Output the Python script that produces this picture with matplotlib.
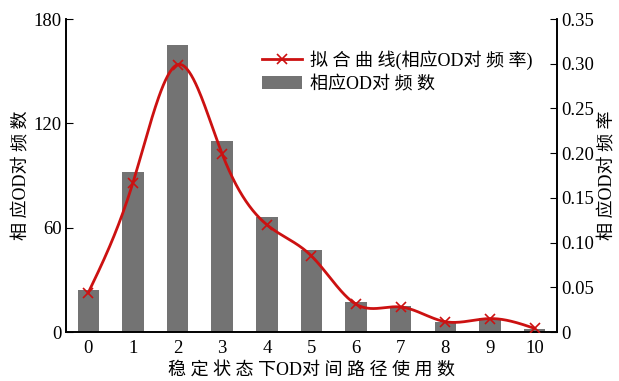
import numpy as np
import matplotlib
matplotlib.use('Agg')
import matplotlib.pyplot as plt
from matplotlib.lines import Line2D
from matplotlib.patches import Patch

plt.rcParams['font.family'] = ['Liberation Serif', 'Noto Sans CJK SC']
plt.rcParams['axes.unicode_minus'] = False

# 路径使用数及对应的OD对频数 / 频率
path_num = [0, 1, 2, 3, 4, 5, 6, 7, 8, 9, 10]
od_count = [24, 92, 165, 110, 66, 47, 17, 15, 6, 8, 2]
od_rate = [0.044, 0.167, 0.299, 0.199, 0.120, 0.085, 0.031, 0.028, 0.0115, 0.015, 0.004]
rate_ticks = ['0', '0.05', '0.10', '0.15', '0.20', '0.25', '0.30', '0.35']

bar_color = '#737373'
line_color = '#cc1111'


def natural_spline(x, y, xs):
    # 自然三次样条, 用于画平滑拟合曲线
    x = np.asarray(x, float)
    y = np.asarray(y, float)
    n = len(x)
    h = np.diff(x)
    A = np.zeros((n, n))
    b = np.zeros(n)
    A[0, 0] = A[-1, -1] = 1
    for i in range(1, n - 1):
        A[i, i - 1] = h[i - 1]
        A[i, i] = 2 * (h[i - 1] + h[i])
        A[i, i + 1] = h[i]
        b[i] = 3 * ((y[i + 1] - y[i]) / h[i] - (y[i] - y[i - 1]) / h[i - 1])
    c = np.linalg.solve(A, b)
    idx = np.clip(np.searchsorted(x, xs) - 1, 0, n - 2)
    dx = xs - x[idx]
    bb = (y[idx + 1] - y[idx]) / h[idx] - h[idx] * (2 * c[idx] + c[idx + 1]) / 3
    d = (c[idx + 1] - c[idx]) / (3 * h[idx])
    return y[idx] + bb * dx + c[idx] * dx ** 2 + d * dx ** 3


fig = plt.figure(figsize=(6.19, 3.81), dpi=100)
ax = fig.add_axes([0.1066, 0.1286, 0.7932, 0.8214])
ax2 = ax.twinx()

ax.bar(path_num, od_count, width=0.48, color=bar_color, zorder=1)
ax.set_xlim(-0.5, 10.5)
ax.set_ylim(0, 180)
ax.set_yticks([0, 60, 120, 180])
ax.set_xticks(path_num)
ax.tick_params(axis='x', length=0, labelsize=13.5, pad=6)
ax.tick_params(axis='y', direction='in', length=5, labelsize=13.5, pad=3)
ax.set_xlabel('稳 定 状 态 下OD对 间 路 径 使 用 数', fontsize=13, labelpad=3)
ax.set_ylabel('相 应OD对 频 数', fontsize=13, labelpad=3)

xs = np.linspace(0, 10, 400)
ax2.plot(xs, natural_spline(path_num, od_rate, xs), color=line_color, lw=2, zorder=3)
ax2.plot(path_num, od_rate, ls='none', marker='x', ms=7, mew=1.2, color=line_color, zorder=4)
ax2.set_ylim(0, 0.35)
ax2.set_yticks([0, 0.05, 0.10, 0.15, 0.20, 0.25, 0.30, 0.35])
ax2.set_yticklabels(rate_ticks)
ax2.tick_params(axis='y', direction='in', length=5, labelsize=13.5, pad=3)
ax2.set_ylabel('相 应OD对 频 率', fontsize=13, labelpad=3)

for a in (ax, ax2):
    a.spines['top'].set_visible(False)
    for s in ('left', 'right', 'bottom'):
        a.spines[s].set_linewidth(1.2)

handles = [
    Line2D([], [], color=line_color, lw=2, marker='x', ms=7, mew=1.2),
    Patch(facecolor=bar_color),
]
labels = ['拟 合 曲 线(相应OD对 频 率)', '相应OD对 频 数']
fig.legend(handles, labels, loc='upper left', bbox_to_anchor=(262 / 619, 1 - 50 / 381),
           frameon=False, fontsize=13, handlelength=2.2, handletextpad=0.45,
           labelspacing=0.35, borderpad=0, borderaxespad=0)

fig.savefig('out.png', dpi=100)
